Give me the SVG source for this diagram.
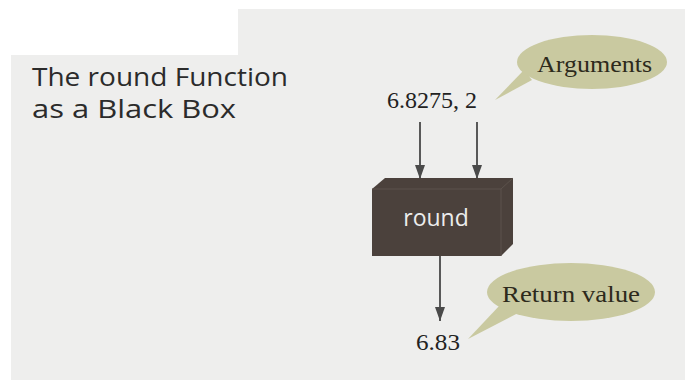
<svg xmlns="http://www.w3.org/2000/svg" width="685" height="380" viewBox="0 0 685 380">
  <defs>
    <style>
      .title { font-family: "Open Sans", "DejaVu Sans", sans-serif; font-size: 25px; fill: #2b2b2b; }
      .serif { font-family: "Liberation Serif", "DejaVu Serif", serif; font-size: 24px; fill: #222; }
      .bubble { fill: #c9c9a0; }
      .bubtext { font-family: "Liberation Serif", "DejaVu Serif", serif; font-size: 24px; fill: #2d2a1c; }
      .conn { stroke: #333; stroke-width: 1.6; fill: none; marker-end: url(#arr); }
      .boxlbl { font-family: "Open Sans", "DejaVu Sans", sans-serif; font-size: 23px; fill: #ececec; text-anchor: middle; }
    </style>
    <marker id="arr" markerWidth="14" markerHeight="10" refX="14" refY="5" orient="auto" markerUnits="userSpaceOnUse" viewBox="0 0 14 10">
      <path d="M0,0 L14,5 L0,10 Z" fill="#4a4a4a"/>
    </marker>
  </defs>
  <rect x="0" y="0" width="685" height="380" fill="#ffffff"/>
  <rect x="11" y="9" width="674" height="371" fill="#eeeeed"/>
  <rect x="11" y="9" width="227" height="46" fill="#ffffff"/>

  <g id="title">
    <text class="title" x="32" y="86" textLength="256" lengthAdjust="spacingAndGlyphs">The round Function</text>
    <text class="title" x="32" y="118" textLength="204" lengthAdjust="spacingAndGlyphs">as a Black Box</text>
  </g>

  <g id="arguments-bubble">
    <path class="bubble" d="M 532,80 L 495,100 L 524,70 Z"/>
    <ellipse class="bubble" cx="592" cy="62" rx="75" ry="27"/>
    <text class="bubtext" x="537" y="72" textLength="115" lengthAdjust="spacingAndGlyphs">Arguments</text>
  </g>

  <g id="args">
    <text class="serif" x="387" y="108" textLength="90" lengthAdjust="spacingAndGlyphs">6.8275, 2</text>
  </g>

  <g id="connectors">
    <line class="conn" x1="420" y1="122" x2="420" y2="179"/>
    <line class="conn" x1="477" y1="122" x2="477" y2="179"/>
    <line class="conn" x1="440" y1="256" x2="440" y2="321"/>
  </g>

  <g id="round-box">
    <polygon points="372,189 385,178 513,178 513,244 501,256 372,256" fill="#4b413c"/>
    <polyline points="372,189 501,189 513,178" fill="none" stroke="#5c524c" stroke-width="1"/>
    <line x1="501" y1="189" x2="501" y2="256" stroke="#5c524c" stroke-width="1"/>
    <text class="boxlbl" x="436" y="226">round</text>
  </g>

  <g id="return-bubble">
    <path class="bubble" d="M 500,305 L 468,339 L 520,312 Z"/>
    <ellipse class="bubble" cx="571" cy="292" rx="84" ry="29"/>
    <text class="bubtext" x="502" y="302" textLength="138" lengthAdjust="spacingAndGlyphs">Return value</text>
  </g>

  <g id="result">
    <text class="serif" x="416" y="350" textLength="44" lengthAdjust="spacingAndGlyphs">6.83</text>
  </g>
</svg>
